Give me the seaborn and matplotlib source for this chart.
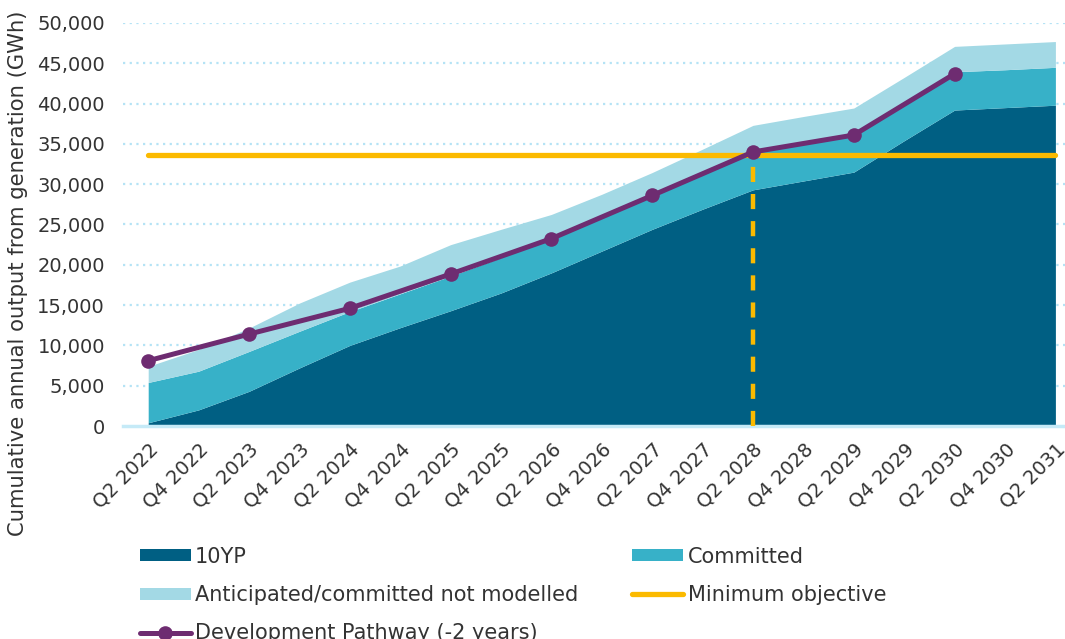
import numpy as np
import pandas as pd
import matplotlib
matplotlib.use('Agg')
import matplotlib.pyplot as plt
import seaborn as sns

# 半年度时间点
quarters = ['Q2 2022', 'Q4 2022', 'Q2 2023', 'Q4 2023', 'Q2 2024', 'Q4 2024',
            'Q2 2025', 'Q4 2025', 'Q2 2026', 'Q4 2026', 'Q2 2027', 'Q4 2027',
            'Q2 2028', 'Q4 2028', 'Q2 2029', 'Q4 2029', 'Q2 2030', 'Q4 2030',
            'Q2 2031']
# 堆叠面积 (GWh)
ten_yp = [400, 2000, 4300, 7200, 10000, 12200, 14300, 16500, 19000, 21700,
          24400, 26900, 29300, 30400, 31500, 35400, 39200, 39500, 39800]
committed = [5000, 4800, 4950, 4550, 4200, 4200, 4300, 4400, 4300, 4200,
             4100, 4300, 4600, 4550, 4500, 4600, 4750, 4700, 4700]
anticipated = [2000, 2700, 2900, 3500, 3650, 3450, 3900, 3500, 2950, 2850,
               2950, 3150, 3400, 3450, 3450, 3250, 3150, 3200, 3200]
# 发展路径 (-2 years)
dev_quarters = ['Q2 2022', 'Q2 2023', 'Q2 2024', 'Q2 2025', 'Q2 2026',
                'Q2 2027', 'Q2 2028', 'Q2 2029', 'Q2 2030']
dev_values = [8100, 11400, 14600, 18850, 23250, 28600, 34000, 36100, 43700]
# 最低目标
min_objective = 33600
objective_met = 'Q2 2028'

c_dark = '#005F83'
c_mid = '#37B1C8'
c_light = '#A3D9E5'
c_purple = '#6E2C71'
c_yellow = '#FBBA00'
c_grid = '#B5E3F5'
c_text = '#333333'

sns.set_theme(style='white')
plt.rcParams['font.family'] = ['DejaVu Sans']
plt.rcParams['font.size'] = 14

W, H = 1065, 639
fig = plt.figure(figsize=(W / 100, H / 100), dpi=100)
ax = fig.add_axes([123 / W, 1 - 426 / H, (W - 123) / W, 403 / H])

x = np.arange(len(quarters))
ax.stackplot(x, ten_yp, committed, anticipated,
             colors=[c_dark, c_mid, c_light], linewidth=0, zorder=2,
             labels=['10YP', 'Committed', 'Anticipated/committed not modelled'])

# 最低目标水平线
obj_df = pd.DataFrame({'x': x, 'y': [min_objective] * len(x)})
sns.lineplot(data=obj_df, x='x', y='y', ax=ax, color=c_yellow, lw=3.8,
             solid_capstyle='round', zorder=4, label='Minimum objective')
# 达标时点虚线
ax.vlines(quarters.index(objective_met), 0, min_objective, colors=c_yellow,
          linestyles=(0, (3.4, 2.7)), lw=3.2, zorder=3)

dev_df = pd.DataFrame({'x': [quarters.index(q) for q in dev_quarters], 'y': dev_values})
sns.lineplot(data=dev_df, x='x', y='y', ax=ax, color=c_purple, lw=3.6,
             marker='o', markersize=10.5, markeredgewidth=0, zorder=5,
             label='Development Pathway (-2 years)')

ax.set_xlim(-0.5, (W - 123) / 50.4 - 0.5)
ax.set_ylim(0, 50000)
ax.set_yticks(np.arange(0, 50001, 5000))
ax.set_yticklabels([f'{v:,}' for v in range(0, 50001, 5000)], color=c_text, fontsize=14)
ax.set_xticks(x)
ax.set_xticklabels(quarters, rotation=45, ha='right', rotation_mode='anchor',
                   color=c_text, fontsize=14)
ax.tick_params(axis='y', length=0, pad=13)
ax.tick_params(axis='x', length=0, pad=10)
ax.set_xlabel('')
ax.set_ylabel('Cumulative annual output from generation (GWh)', color=c_text, fontsize=15.2)
ax.yaxis.set_label_coords(-95 / (W - 123), 0.38)

for v in range(5000, 50001, 5000):
    ax.axhline(v, color=c_grid, lw=1.6, ls=(0, (1, 2)), zorder=1)
for s in ['top', 'right', 'left']:
    ax.spines[s].set_visible(False)
ax.spines['bottom'].set_color('#C5EAF7')
ax.spines['bottom'].set_linewidth(2.5)
ax.grid(False)

ax.get_legend().remove()
h, l = ax.get_legend_handles_labels()
lut = dict(zip(l, h))
order = ['10YP', 'Anticipated/committed not modelled', 'Development Pathway (-2 years)',
         'Committed', 'Minimum objective']
fig.legend([lut[k] for k in order], order, loc='upper left',
           bbox_to_anchor=(121 / W, 1 - 528 / H), ncol=2, frameon=False,
           fontsize=15, handlelength=2.45, handleheight=0.5, handletextpad=0.2,
           columnspacing=2.6, labelspacing=0.88, labelcolor=c_text)

fig.savefig('out.png', dpi=100)
